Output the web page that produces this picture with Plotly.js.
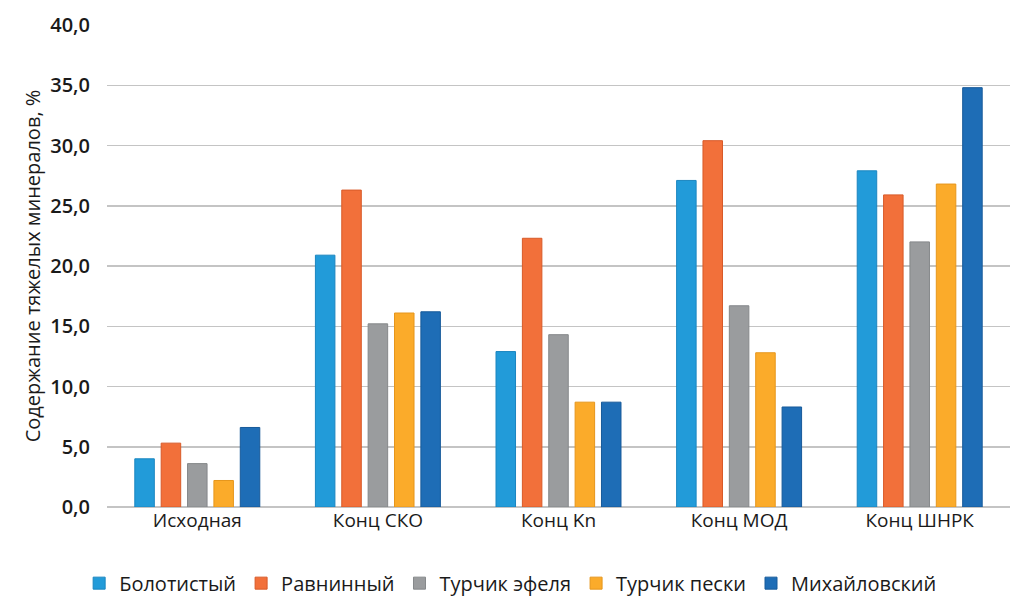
<!DOCTYPE html>
<html>
<head>
<meta charset="utf-8">
<script src="https://cdn.plot.ly/plotly-3.0.1.min.js"></script>
<style>body{margin:0;background:#fff}#chart{width:1031px;height:616px}</style>
</head>
<body>
<div id="chart"></div>
<script>
const categories = ["Исходная", "Конц СКО", "Конц Kn", "Конц МОД", "Конц ШНРК"];
const seriesNames = ["Болотистый", "Равнинный", "Турчик эфеля", "Турчик пески", "Михайловский"];
const bolotisty = [4.0, 20.9, 12.9, 27.1, 27.9];
const ravninny = [5.3, 26.3, 22.3, 30.4, 25.9];
const turchikEfelya = [3.6, 15.2, 14.3, 16.7, 22.0];
const turchikPeski = [2.2, 16.1, 8.7, 12.8, 26.8];
const mikhailovsky = [6.6, 16.2, 8.7, 8.3, 34.8];
const yTicks = [0, 5, 10, 15, 20, 25, 30, 35, 40];

const values = [bolotisty, ravninny, turchikEfelya, turchikPeski, mikhailovsky];
const colors = ["#229bd9", "#f2703a", "#9a9c9e", "#fbab2a", "#1e6db6"];
const lines = ["#1b86c0", "#d85a28", "#85888a", "#e6961c", "#175a9a"];

const traces = seriesNames.map((n, i) => ({
  type: "bar",
  name: n,
  x: categories,
  y: values[i],
  marker: {color: colors[i], line: {color: lines[i], width: 1}},
  hoverinfo: "y"
}));

const layout = {
  width: 1031, height: 616,
  margin: {l: 107, r: 21, t: 25, b: 109},
  paper_bgcolor: "#ffffff", plot_bgcolor: "#ffffff",
  separators: ", ",
  font: {family: "Open Sans, sans-serif", color: "#1a1a1a"},
  barmode: "group",
  bargap: 0.27,
  bargroupgap: 0.26,
  xaxis: {
    type: "category", tickangle: 0, automargin: false,
    showgrid: false, zeroline: false, showline: false,
    ticks: "", tickfont: {size: 19, color: "#1a1a1a"}
  },
  yaxis: {
    range: [0, 40], tickvals: yTicks, tickformat: ".1f", automargin: false,
    showgrid: true, gridcolor: "#c4c4c4", gridwidth: 1.5,
    zeroline: true, zerolinecolor: "#c4c4c4", zerolinewidth: 1.5,
    showline: false, ticks: "", ticklen: 0, ticklabelstandoff: 16,
    tickfont: {size: 20, color: "#1a1a1a", weight: 600},
    title: {text: "Содержание тяжелых минералов, %", font: {size: 20, color: "#1a1a1a"}, standoff: 4}
  },
  legend: {
    orientation: "h", x: 0.447, xanchor: "center", y: -0.158, yanchor: "middle",
    font: {size: 20, color: "#1a1a1a"}, traceorder: "normal", itemwidth: 30
  },
  showlegend: true
};

Plotly.newPlot("chart", traces, layout, {displayModeBar: false, staticPlot: true});
</script>
</body>
</html>
